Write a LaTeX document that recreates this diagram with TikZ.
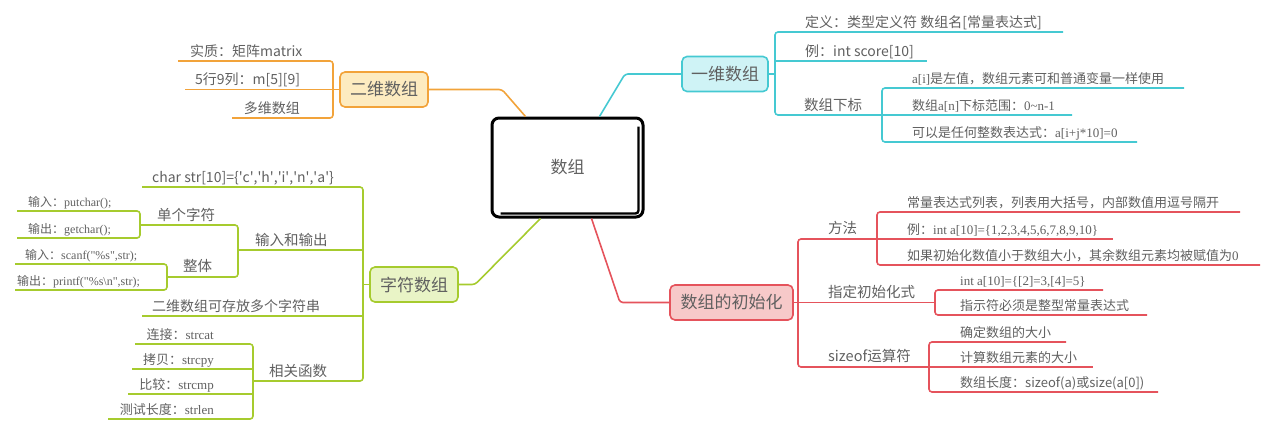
\documentclass[tikz,border=0pt]{standalone}
\usepackage{fontspec}
\setmainfont{Noto Sans CJK SC}
\newfontfamily\ensr{Liberation Serif}

\definecolor{orgline}{HTML}{F2A33A}
\definecolor{orgfill}{HTML}{FDEBC0}
\definecolor{cyaline}{HTML}{45C9D2}
\definecolor{cyafill}{HTML}{CFF3F6}
\definecolor{grnline}{HTML}{A6CB2E}
\definecolor{grnfill}{HTML}{E9F4C6}
\definecolor{redline}{HTML}{E5535C}
\definecolor{redfill}{HTML}{F7C9C9}
\definecolor{txtgray}{HTML}{606060}

\newcommand{\sq}{\textquotesingle}

\tikzset{
  rootbox/.style={draw, line width=3pt, rounded corners=7pt, minimum width=151pt,
    minimum height=99pt, text=txtgray, font=\fontsize{17}{17}\selectfont},
  hub/.style={draw, rounded corners=5pt, line width=1.6pt, minimum height=35pt,
    inner sep=0pt, text=txtgray, font=\fontsize{17}{17}\selectfont},
  leaf/.style={inner sep=0pt, anchor=base west, text=txtgray, font=\fontsize{14}{14}\selectfont},
  sleaf/.style={leaf, font=\fontsize{13}{13}\selectfont},
  tleaf/.style={leaf, font=\fontsize{12}{12}\selectfont},
  sub/.style={leaf, font=\fontsize{14.5}{14.5}\selectfont},
  br/.style={line width=1.6pt, rounded corners=3pt},
  orgbr/.style={br, orgline},
  cyabr/.style={br, cyaline},
  grnbr/.style={br, grnline},
  redbr/.style={br, redline},
}

\begin{document}
\begin{tikzpicture}[x=1pt,y=-1pt]
  \useasboundingbox (0,0) rectangle (1267,432);

  % 中心
  \node[rootbox] (root) at (567.5,167.5) {数组};
  \draw[line width=2.4pt, rounded corners=3pt]
    ([xshift=-6pt,yshift=-10pt]root.north east) -- ([xshift=-6pt,yshift=5pt]root.south east)
    -- ([xshift=10pt,yshift=5pt]root.south west);

  % 二维数组
  \node[hub, draw=orgline, fill=orgfill, minimum width=88pt] (er) at (384,89.5) {二维数组};
  \draw[orgbr] ([xshift=35pt]root.north west) -- (502,89.5) -- (er.east);
  \draw[orgbr] (178,61) -- (333,61) -- (333,118) -- (232,118);
  \draw[orgbr] (185,89.5) -- (er.west);
  \node[leaf] (er1) at (190,56) {实质：矩阵matrix};
  \node[leaf] (er2) at (195,84) {5行9列：m[5][9]};
  \node[leaf, anchor=base east] (er3) at (300,113) {多维数组};

  % 一维数组
  \node[hub, draw=cyaline, fill=cyafill, minimum width=86pt] (yi) at (725,74) {一维数组};
  \draw[cyabr] ([xshift=-45pt]root.north east) -- (625,74) -- (yi.west);
  \draw[cyabr] (1063,32) -- (775,32) -- (775,115) -- (1072,115);
  \draw[cyabr] (yi.east) -- (775,74);
  \draw[cyabr] (775,61) -- (927,61);
  \draw[cyabr] (1184,88) -- (882,88) -- (882,142) -- (1137,142);
  \node[leaf] (yi1) at (805,27) {定义：类型定义符 数组名[常量表达式]};
  \node[leaf] (yi2) at (805,56) {例：int score[10]};
  \node[sub] (yi3) at (804,110) {数组下标};
  \node[sleaf] (yi4) at (912,83) {{\ensr a[i]}是左值，数组元素可和普通变量一样使用};
  \node[sleaf] (yi5) at (912,110) {数组{\ensr a[n]}下标范围：{\ensr 0\textasciitilde n-1}};
  \node[sleaf] (yi6) at (912,137) {可以是任何整数表达式：{\ensr a[i+j*10]=0}};

  % 字符数组
  \node[hub, draw=grnline, fill=grnfill, minimum width=88pt] (zi) at (414,284.5) {字符数组};
  \draw[grnbr] ([xshift=50pt]root.south west) -- (475,284.5) -- (zi.east);
  \draw[grnbr] (142,187) -- (363,187) -- (363,381) -- (253,381);
  \draw[grnbr] (zi.west) -- (363,284.5);
  \draw[grnbr] (238,250) -- (363,250);
  \draw[grnbr] (142,316) -- (363,316);
  \draw[grnbr] (17,211) -- (140,211) -- (140,238) -- (17,238);
  \draw[grnbr] (140,225) -- (238,225) -- (238,277) -- (167,277);
  \draw[grnbr] (15,264) -- (167,264) -- (167,290) -- (15,290);
  \draw[grnbr] (135,344) -- (253,344) -- (253,419) -- (108,419);
  \draw[grnbr] (132,369) -- (253,369);
  \draw[grnbr] (128,394) -- (253,394);
  \node[leaf] (zi1) at (152,182) {char str[10]=\{\sq c\sq,\sq h\sq,\sq i\sq,\sq n\sq,\sq a\sq\}};
  \node[sub] (zi2) at (255,245) {输入和输出};
  \node[sub] (zi3) at (157,220) {单个字符};
  \node[sub] (zi4) at (183,271) {整体};
  \node[tleaf] (zi5) at (28,206) {输入：{\ensr putchar();}};
  \node[tleaf] (zi6) at (28,233) {输出：{\ensr getchar();}};
  \node[tleaf] (zi7) at (25,259) {输入：{\ensr scanf("\%s",str);}};
  \node[tleaf] (zi8) at (17,285) {输出：{\ensr printf("\%s\textbackslash n",str);}};
  \node[leaf] (zi9) at (152,311) {二维数组可存放多个字符串};
  \node[sub] (zi10) at (269,376) {相关函数};
  \node[sleaf, anchor=base east] (zi11) at (214,339) {连接：{\ensr strcat}};
  \node[sleaf, anchor=base east] (zi12) at (214,364) {拷贝：{\ensr strcpy}};
  \node[sleaf, anchor=base east] (zi13) at (214,389) {比较：{\ensr strcmp}};
  \node[sleaf, anchor=base east] (zi14) at (214,414) {测试长度：{\ensr strlen}};

  % 数组的初始化
  \node[hub, draw=redline, fill=redfill, minimum width=123pt] (ch) at (731.5,302.5) {数组的初始化};
  \draw[redbr] ([xshift=-53pt]root.south east) -- (620,302.5) -- (ch.west);
  \draw[redbr] (877,239) -- (798,239) -- (798,367) -- (929,367);
  \draw[redbr] (ch.east) -- (935,302.5);
  \draw[redbr] (1240,212) -- (877,212) -- (877,265) -- (1260,265);
  \draw[redbr] (877,239) -- (1113,239);
  \draw[redbr] (1103,290) -- (935,290) -- (935,315) -- (1147,315);
  \draw[redbr] (1066,342) -- (929,342) -- (929,392) -- (1158,392);
  \draw[redbr] (929,367) -- (1093,367);
  \node[sub] (ch1) at (828,233) {方法};
  \node[sub] (ch2) at (828,297) {指定初始化式};
  \node[sub] (ch3) at (828,361) {sizeof运算符};
  \node[sleaf] (ch4) at (907,207) {常量表达式列表，列表用大括号，内部数值用逗号隔开};
  \node[sleaf] (ch5) at (907,234) {例：{\ensr int a[10]=\{1,2,3,4,5,6,7,8,9,10\}}};
  \node[sleaf] (ch6) at (907,260) {如果初始化数值小于数组大小，其余数组元素均被赋值为{\ensr 0}};
  \node[sleaf] (ch7) at (960,285) {{\ensr int a[10]=\{[2]=3,[4]=5\}}};
  \node[sleaf] (ch8) at (960,310) {指示符必须是整型常量表达式};
  \node[sleaf] (ch9) at (960,337) {确定数组的大小};
  \node[sleaf] (ch10) at (960,362) {计算数组元素的大小};
  \node[sleaf] (ch11) at (960,387) {数组长度：sizeof(a)或size(a[0])};
\end{tikzpicture}
\end{document}
